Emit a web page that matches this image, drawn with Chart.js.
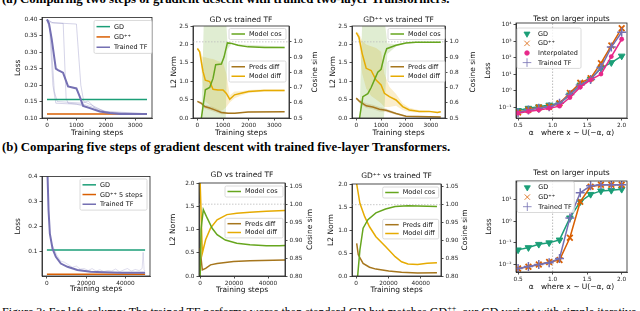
<!DOCTYPE html>
<html>
<head>
<meta charset="utf-8">
<script src="https://cdn.jsdelivr.net/npm/chart.js@4.4.1/dist/chart.umd.min.js"></script>
<style>
  body { margin: 0; width: 640px; height: 311px; overflow: hidden; background: #fff; position: relative; }
  canvas { position: absolute; }
  .cap { position: absolute; left: 2px; white-space: nowrap; color: #000; font: bold 12.8px/12.8px "Liberation Serif"; }
  .fig { position: absolute; left: 2px; white-space: nowrap; color: #000; font: 12px/12px "Liberation Serif"; }
</style>
</head>
<body>
<div class="cap" style="top:-6.7px">(a) Comparing two steps of gradient descent with trained two-layer Transformers.</div>
<div class="cap" style="top:141.3px">(b) Comparing five steps of gradient descent with trained five-layer Transformers.</div>
<div class="fig" style="top:306px">Figure 3: Far left column: The trained TF performs worse than standard GD but matches GD<sup style="font-size:8px;line-height:0">++</sup>, our GD variant with simple iterative</div>
<script>
// colours (Dark2)
const cGD = '#1b9e77', cGDpp = '#d95f02', cTF = '#7570b3', cInterp = '#e7298a';
const cCos = '#66a61e', cModel = '#e6ab02', cPreds = '#a6761d';
const FONT = 'DejaVu Sans';

// ---- (a) two-layer: loss curves
const a1Steps = [0, 3400];
const a1GD = [0.156, 0.156];
const a1GDpp = [0.112, 0.112];
const a1TFSteps = [0, 70, 160, 300, 375, 545, 716, 1000, 1114, 1227, 1455, 1795, 2136, 2477, 3400];
const a1TF = [0.40, 0.387, 0.34, 0.25, 0.246, 0.238, 0.196, 0.19, 0.165, 0.137, 0.13, 0.12, 0.115, 0.112, 0.112];
const a1RunASteps = [0, 80, 200, 300, 1000, 1500, 2000, 3400];
const a1RunA = [0.40, 0.39, 0.20, 0.145, 0.142, 0.13, 0.115, 0.112];
const a1RunBSteps = [0, 150, 550, 650, 720, 1300, 2000, 3400];
const a1RunB = [0.40, 0.39, 0.388, 0.16, 0.145, 0.14, 0.12, 0.113];
const a1RunCSteps = [0, 200, 1000, 1150, 1250, 1500, 2000, 3400];
const a1RunC = [0.40, 0.39, 0.386, 0.20, 0.15, 0.14, 0.118, 0.113];
const a1RunDSteps = [0, 120, 250, 350, 1200, 1400, 1700, 2200, 3400];
const a1RunD = [0.40, 0.36, 0.18, 0.15, 0.145, 0.152, 0.125, 0.115, 0.112];

// ---- (a) GD vs trained TF
const a2CosSteps = [156, 312, 480, 610, 714, 935, 1039, 1169, 1325, 1584, 1974, 2623, 3400];
const a2Cos = [0.5, 0.685, 0.70, 0.76, 0.85, 0.854, 0.90, 0.993, 0.99, 0.978, 0.967, 0.963, 0.963];
const a2CosBandSteps = [156, 260, 1100, 1169, 1325, 1584, 3400];
const a2CosHi = [0.5, 1.2, 1.2, 1.0, 0.995, 0.985, 0.968];
const a2CosLo = [0.45, 0.45, 0.45, 0.95, 0.985, 0.972, 0.958];
const a2ModelSteps = [0, 90, 220, 310, 480, 610, 800, 1000, 1130, 1260, 1450, 1700, 2000, 2600, 3400];
const a2Model = [1.89, 1.80, 1.26, 1.03, 0.99, 0.78, 0.76, 0.76, 0.67, 0.51, 0.63, 0.67, 0.72, 0.75, 0.75];
const a2ModelHi = [1.92, 1.85, 1.65, 1.65, 1.62, 1.6, 1.55, 1.5, 1.2, 0.62, 0.72, 0.73, 0.76, 0.78, 0.78];
const a2ModelLo = [1.86, 1.75, 0.9, 0.45, 0.35, 0.25, 0.2, 0.22, 0.3, 0.42, 0.54, 0.61, 0.68, 0.72, 0.72];
const a2PredSteps = [0, 156, 286, 480, 675, 935, 1195, 1455, 1974, 3400];
const a2Pred = [0.45, 0.40, 0.31, 0.27, 0.22, 0.15, 0.13, 0.13, 0.16, 0.17];
const a2PredHi = [0.47, 0.44, 0.36, 0.33, 0.28, 0.2, 0.15, 0.145, 0.17, 0.18];
const a2PredLo = [0.43, 0.36, 0.26, 0.21, 0.16, 0.1, 0.11, 0.115, 0.15, 0.16];

// ---- (a) GD++ vs trained TF
const a3CosSteps = [133, 267, 467, 600, 733, 867, 1000, 1133, 1227, 1600, 2000, 2400, 3400];
const a3Cos = [0.5, 0.64, 0.66, 0.70, 0.75, 0.80, 0.82, 0.91, 0.955, 0.978, 0.993, 0.998, 0.998];
const a3CosBandSteps = [133, 250, 1100, 1250, 1600, 2000, 3400];
const a3CosHi = [0.5, 1.2, 1.2, 0.99, 0.985, 0.996, 1.0];
const a3CosLo = [0.45, 0.45, 0.45, 0.92, 0.97, 0.99, 0.996];
const a3ModelSteps = [0, 107, 240, 400, 600, 800, 1000, 1133, 1333, 1600, 1867, 2133, 2533, 2933, 3267, 3400];
const a3Model = [2.32, 2.2, 1.75, 1.35, 1.29, 1.03, 0.90, 0.67, 0.58, 0.49, 0.31, 0.22, 0.18, 0.18, 0.15, 0.17];
const a3ModelHi = [2.35, 2.3, 2.1, 2.0, 1.95, 1.9, 1.8, 1.2, 0.85, 0.65, 0.4, 0.28, 0.21, 0.2, 0.17, 0.19];
const a3ModelLo = [2.29, 2.1, 1.2, 0.8, 0.6, 0.5, 0.4, 0.3, 0.3, 0.33, 0.22, 0.16, 0.15, 0.16, 0.13, 0.15];
const a3PredSteps = [0, 133, 400, 667, 933, 1200, 1600, 2000, 3400];
const a3Pred = [0.54, 0.45, 0.33, 0.30, 0.24, 0.21, 0.12, 0.045, 0.03];
const a3PredHi = [0.56, 0.5, 0.4, 0.36, 0.3, 0.26, 0.15, 0.06, 0.04];
const a3PredLo = [0.52, 0.4, 0.27, 0.24, 0.18, 0.16, 0.09, 0.03, 0.02];

// ---- test on larger inputs
const alphas = [0.5, 0.65, 0.8, 0.95, 1.1, 1.25, 1.4, 1.55, 1.7, 1.85, 2.0];
const trainAlpha = 1.0;
const a4GD = [0.066, 0.09, 0.11, 0.14, 0.18, 0.58, 2.3, 5.1, 24, 52, 130];
const a4GDpp = [0.05, 0.073, 0.1, 0.11, 0.18, 0.75, 3.1, 5.9, 48, 560, 6300];
const a4Interp = [0.046, 0.057, 0.07, 0.09, 0.12, 0.4, 1.7, 4.7, 10.5, 120, 1350];
const a4TF = [0.05, 0.07, 0.09, 0.11, 0.18, 0.6, 2.3, 5, 26, 450, 3600];

// ---- (b) five-layer: loss curves
const b1Steps = [0, 50000];
const b1GD = [0.105, 0.105];
const b1GDpp = [0.007, 0.007];
const b1TFSteps = [0, 340, 840, 1500, 2870, 4560, 7090, 10460, 15500, 22300, 29000, 37500, 50000];
const b1TF = [0.6, 0.40, 0.263, 0.17, 0.11, 0.077, 0.05, 0.037, 0.024, 0.017, 0.015, 0.013, 0.013];
const b1RunSteps = [3000, 5000, 7000, 9000, 11000, 13000, 15000, 17000, 19000, 21000, 23000, 25000, 27000, 29000,
  31000, 33000, 35000, 37000, 39000, 41000, 43000, 45000, 47000, 48500, 49000, 49500, 50000];
const b1Run = [0.12, 0.085, 0.06, 0.055, 0.045, 0.035, 0.04, 0.028, 0.03, 0.022, 0.03, 0.02, 0.025, 0.018,
  0.022, 0.02, 0.028, 0.017, 0.024, 0.03, 0.02, 0.026, 0.022, 0.03, 0.095, 0.025, 0.02];

// ---- (b) GD vs trained TF
const b2CosSteps = [0, 600, 1930, 4250, 7150, 10050, 14900, 21640, 29370, 39030, 46760, 50000];
const b2Cos = [0.78, 0.93, 0.985, 0.961, 0.933, 0.915, 0.90, 0.891, 0.887, 0.884, 0.884, 0.885];
const b2ModelSteps = [0, 1350, 3290, 6180, 10050, 15850, 21640, 29370, 39030, 50000];
const b2Model = [2.1, 0.49, 0.78, 1.03, 1.21, 1.32, 1.35, 1.37, 1.39, 1.41];
const b2PredSteps = [0, 1350, 3290, 6180, 10050, 19710, 29370, 50000];
const b2Pred = [0.6, 0.13, 0.165, 0.24, 0.27, 0.31, 0.33, 0.345];

// ---- (b) GD++ vs trained TF
const b3CosSteps = [990, 2380, 4360, 7330, 12280, 18220, 24160, 32080, 50000];
const b3Cos = [0.80, 0.873, 0.934, 0.958, 0.977, 0.988, 0.995, 0.997, 0.995];
const b3ModelSteps = [400, 2380, 5350, 8320, 12280, 18220, 24160, 28120, 32080, 38020, 43960, 50000];
const b3Model = [2.0, 1.58, 1.29, 1.07, 0.855, 0.64, 0.42, 0.31, 0.26, 0.25, 0.275, 0.29];
const b3PredSteps = [400, 1390, 4360, 8320, 12280, 20200, 28120, 38020, 50000];
const b3Pred = [0.71, 0.46, 0.275, 0.19, 0.15, 0.11, 0.08, 0.065, 0.07];

// ---- (b) test on larger inputs
const b4GD = [0.047, 0.06, 0.085, 0.1, 0.135, 1.4, 7.8, 17, 24.5, 26, 29];
const b4GDpp = [0.0065, 0.0078, 0.01, 0.013, 0.016, 0.17, 7.8, 38, 47, 47, 47];
const b4TF = [0.0065, 0.008, 0.01, 0.012, 0.019, 1.4, 20, 42, 47, 47, 47];

// ---- ticks
const stepTicksA = [0, 1000, 2000, 3000];
const stepLabelsA = ['0', '1000', '2000', '3000'];
const stepTicksB = [0, 20000, 40000];
const stepLabelsB = ['0', '20000', '40000'];
const lossTicksA = [0.10, 0.15, 0.20, 0.25, 0.30, 0.35, 0.40];
const lossLabelsA = ['0.10', '0.15', '0.20', '0.25', '0.30', '0.35', '0.40'];
const lossTicksB = [0.1, 0.2, 0.3, 0.4];
const lossLabelsB = ['0.1', '0.2', '0.3', '0.4'];
const normTicksA = [0, 0.5, 1.0, 1.5, 2.0, 2.5];
const normLabelsA = ['0.0', '0.5', '1.0', '1.5', '2.0', '2.5'];
const normTicksB = [0, 0.5, 1.0, 1.5, 2.0];
const normLabelsB = ['0.0', '0.5', '1.0', '1.5', '2.0'];
const cosTicksA = [0.5, 0.6, 0.7, 0.8, 0.9, 1.0];
const cosLabelsA = ['0.5', '0.6', '0.7', '0.8', '0.9', '1.0'];
const cosTicksB = [0.80, 0.85, 0.90, 0.95, 1.00, 1.05];
const cosLabelsB = ['0.80', '0.85', '0.90', '0.95', '1.00', '1.05'];
const alphaTicks = [0.5, 1.0, 1.5, 2.0];
const alphaLabels = ['0.5', '1.0', '1.5', '2.0'];
const logTicksA = [0.1, 1, 10, 100, 1000, 10000];
const logLabelsA = ['10⁻¹', '10⁰', '10¹', '10²', '10³', '10⁴'];
const logTicksB = [0.01, 0.1, 1, 10];
const logLabelsB = ['10⁻²', '10⁻¹', '10⁰', '10¹'];

function pts(xs, ys) { return xs.map((x, i) => ({ x: x, y: ys[i] })); }

function lineDs(xs, ys, color, width, more) {
  return Object.assign({ data: pts(xs, ys), borderColor: color, backgroundColor: color,
    borderWidth: width, pointRadius: 0, tension: 0, fill: false }, more || {});
}

function bandDs(xs, lo, hi, color, axisId) {
  return [
    { data: pts(xs, lo), borderColor: 'rgba(0,0,0,0)', borderWidth: 1, pointRadius: 0, fill: false, yAxisID: axisId },
    { data: pts(xs, hi), borderColor: 'rgba(0,0,0,0)', borderWidth: 1, pointRadius: 0, fill: '-1', backgroundColor: color, yAxisID: axisId }
  ];
}

function axis(s, pos, size, title) {
  const horiz = pos === 'bottom';
  return {
    type: s.log ? 'logarithmic' : 'linear', position: pos, min: s.min, max: s.max,
    afterFit: sc => { if (horiz) sc.height = size; else sc.width = size; },
    afterBuildTicks: sc => { sc.ticks = s.ticks.map(v => ({ value: v })); },
    ticks: { autoSkip: false, maxRotation: 0, padding: 2, color: '#222',
      font: { family: FONT, size: 5.8 }, callback: (v, i) => s.labels[i] },
    grid: { drawOnChartArea: false, drawTicks: true, tickLength: 2.5, color: '#222', lineWidth: 0.8 },
    border: { display: true, color: '#222', width: 0.8 },
    title: title ? { display: true, text: title, color: '#111', padding: 0, font: { family: FONT, size: 7.5 } } : { display: false }
  };
}

function drawLegend(ctx, ca, lg) {
  const x = ca.left + lg.x, y = ca.top + lg.y, rowH = lg.rowH || 10, pad = 1;
  const h = lg.items.length * rowH + pad * 2;
  ctx.save();
  ctx.beginPath();
  ctx.roundRect(x, y, lg.w, h, 1.5);
  ctx.fillStyle = 'rgba(255,255,255,0.8)';
  ctx.fill();
  ctx.strokeStyle = '#d0d0d0';
  ctx.lineWidth = 0.8;
  ctx.stroke();
  ctx.font = '6.5px "' + FONT + '"';
  ctx.textBaseline = 'middle';
  ctx.textAlign = 'left';
  lg.items.forEach((it, i) => {
    const cy = y + pad + rowH * (i + 0.5);
    ctx.strokeStyle = it.color;
    ctx.fillStyle = it.color;
    if (it.marker) {
      Chart.helpers.drawPoint(ctx, { pointStyle: it.marker, rotation: it.rot || 0, radius: it.r || 3.5, borderWidth: it.bw || 1 }, x + 10, cy);
    } else {
      ctx.lineWidth = 1.5;
      ctx.beginPath();
      ctx.moveTo(x + 2.5, cy);
      ctx.lineTo(x + 16, cy);
      ctx.stroke();
    }
    ctx.fillStyle = '#111';
    ctx.fillText(it.label, x + (it.marker ? 21 : 20), cy + 0.3);
  });
  ctx.restore();
}

const figText = {
  id: 'figText',
  afterDraw(chart, args, o) {
    const ctx = chart.ctx, ca = chart.chartArea;
    ctx.save();
    ctx.strokeStyle = '#222';
    ctx.lineWidth = 0.8;
    ctx.strokeRect(ca.left, ca.top, ca.right - ca.left, ca.bottom - ca.top);
    ctx.fillStyle = '#111';
    ctx.textAlign = 'center';
    ctx.textBaseline = 'middle';
    ctx.font = '7.5px "' + FONT + '"';
    if (o.title) ctx.fillText(o.title, (ca.left + ca.right) / 2, ca.top - o.titleGap);
    if (o.y2Title) {
      ctx.save();
      ctx.translate(ca.right + o.y2Gap, (ca.top + ca.bottom) / 2);
      ctx.rotate(-Math.PI / 2);
      ctx.fillText(o.y2Title, 0, 0);
      ctx.restore();
    }
    ctx.restore();
    (o.legends || []).forEach(lg => drawLegend(ctx, ca, lg));
  }
};

function makePlot(o) {
  const [l, t, r, b] = o.area;
  const w = r - l + o.padL + o.padR, h = b - t + o.padT + o.padB;
  const cv = document.createElement('canvas');
  cv.width = w; cv.height = h;
  cv.style.left = (l - o.padL) + 'px';
  cv.style.top = (t - o.padT) + 'px';
  document.body.appendChild(cv);
  const scales = { x: axis(o.x, 'bottom', o.padB, o.xTitle), y: axis(o.y, 'left', o.padL, o.yTitle) };
  if (o.y2) scales.y2 = axis(o.y2, 'right', o.padR, null);
  return new Chart(cv, {
    type: 'line',
    data: { datasets: o.datasets },
    options: {
      responsive: false, animation: false,
      layout: { padding: { top: o.padT, right: o.y2 ? 0 : o.padR, left: 0, bottom: 0 } },
      plugins: { legend: { display: false }, tooltip: { enabled: false },
        filler: { drawTime: 'beforeDatasetsDraw' }, figText: o.text || {} },
      scales: scales
    },
    plugins: [figText]
  });
}

const faint = 'rgba(117,112,179,0.3)';
const lineItem = (label, color) => ({ label: label, color: color });

// (a) loss
makePlot({
  area: [42, 17, 152, 118], padL: 28, padR: 6, padT: 5, padB: 20,
  x: { min: -170, max: 3570, ticks: stepTicksA, labels: stepLabelsA },
  y: { min: 0.1, max: 0.406, ticks: lossTicksA, labels: lossLabelsA },
  xTitle: 'Training steps', yTitle: 'Loss',
  datasets: [
    lineDs(a1TFSteps, a1TF, cTF, 2),
    lineDs(a1Steps, a1GD, cGD, 1.5),
    lineDs(a1Steps, a1GDpp, cGDpp, 1.5),
    lineDs(a1RunASteps, a1RunA, faint, 1),
    lineDs(a1RunBSteps, a1RunB, faint, 1),
    lineDs(a1RunCSteps, a1RunC, faint, 1),
    lineDs(a1RunDSteps, a1RunD, faint, 1)
  ],
  text: { legends: [{ x: 52, y: 3, w: 58, rowH: 10.3,
    items: [lineItem('GD', cGD), lineItem('GD⁺⁺', cGDpp), lineItem('Trained TF', cTF)] }] }
});

function cosPlot(area, padL, y2Gap, title, d) {
  return makePlot({
    area: area, padL: padL, padR: y2Gap + 6, padT: 10, padB: 20,
    x: { min: -170, max: 3570, ticks: stepTicksA, labels: stepLabelsA },
    y: { min: 0, max: 2.5, ticks: normTicksA, labels: normLabelsA },
    y2: { min: 0.5, max: 1.104, ticks: cosTicksA, labels: cosLabelsA },
    xTitle: 'Training steps', yTitle: 'L2 Norm',
    datasets: [
      lineDs(d.cosS, d.cos, cCos, 1.5, { yAxisID: 'y2' }),
      lineDs(d.modelS, d.model, cModel, 1.5),
      lineDs(d.predS, d.pred, cPreds, 1.5),
      lineDs([-170, 3570], [1.0, 1.0], '#bbbbbb', 0.8, { yAxisID: 'y2', borderDash: [1.5, 1.5] }),
      ...bandDs(d.cosBS, d.cosLo, d.cosHi, 'rgba(102,166,30,0.2)', 'y2'),
      ...bandDs(d.modelS, d.modelLo, d.modelHi, 'rgba(230,171,2,0.2)', 'y'),
      ...bandDs(d.predS, d.predLo, d.predHi, 'rgba(166,118,29,0.2)', 'y')
    ],
    text: { title: title, titleGap: 6, y2Title: 'Cosine sim', y2Gap: y2Gap, legends: [
      { x: 36, y: 2.5, w: 57, rowH: 9, items: [lineItem('Model cos', cCos)] },
      { x: 36, y: 35, w: 57, rowH: 9.5, items: [lineItem('Preds diff', cPreds), lineItem('Model diff', cModel)] }
    ] }
  });
}

cosPlot([193, 26, 289, 118], 23, 26, 'GD vs trained TF', {
  cosS: a2CosSteps, cos: a2Cos, cosBS: a2CosBandSteps, cosLo: a2CosLo, cosHi: a2CosHi,
  modelS: a2ModelSteps, model: a2Model, modelLo: a2ModelLo, modelHi: a2ModelHi,
  predS: a2PredSteps, pred: a2Pred, predLo: a2PredLo, predHi: a2PredHi
});
cosPlot([352, 26, 445, 118], 23, 28, 'GD⁺⁺ vs trained TF', {
  cosS: a3CosSteps, cos: a3Cos, cosBS: a3CosBandSteps, cosLo: a3CosLo, cosHi: a3CosHi,
  modelS: a3ModelSteps, model: a3Model, modelLo: a3ModelLo, modelHi: a3ModelHi,
  predS: a3PredSteps, pred: a3Pred, predLo: a3PredLo, predHi: a3PredHi
});

// markers
const mkGD = { pointStyle: 'triangle', pointRotation: 180, pointRadius: 3.8, pointBorderWidth: 1, pointBackgroundColor: cGD, pointBorderColor: cGD };
const mkGDpp = { pointStyle: 'crossRot', pointRadius: 4, pointBorderWidth: 1.8, pointBorderColor: cGDpp };
const mkInterp = { pointStyle: 'circle', pointRadius: 2.4, pointBorderWidth: 0, pointBackgroundColor: cInterp };
const mkTF = { pointStyle: 'cross', pointRadius: 4.5, pointBorderWidth: 1.5, pointBorderColor: cTF };

function testPlot(area, padL, padT, titleGap, y, series, legend) {
  return makePlot({
    area: area, padL: padL, padR: 8, padT: padT, padB: 20,
    x: { min: 0.47, max: 2.077, ticks: alphaTicks, labels: alphaLabels },
    y: y, xTitle: 'α   where x ∼ U(−α, α)', yTitle: 'Loss',
    datasets: series.concat([
      lineDs([trainAlpha, trainAlpha], [y.min, y.max], '#aaaaaa', 0.8, { borderDash: [1.5, 1.5], order: 9 })
    ]),
    text: { title: 'Test on larger inputs', titleGap: titleGap, legends: [legend] }
  });
}

testPlot([516, 23, 627, 118], 32, 10, 4, { log: true, min: 0.023, max: 13000, ticks: logTicksA, labels: logLabelsA }, [
  lineDs(alphas, a4GD, cGD, 1.5, Object.assign({ order: 4 }, mkGD)),
  lineDs(alphas, a4GDpp, cGDpp, 1.5, Object.assign({ order: 3 }, mkGDpp)),
  lineDs(alphas, a4TF, cTF, 1.5, Object.assign({ order: 2 }, mkTF)),
  lineDs(alphas, a4Interp, cInterp, 1.5, Object.assign({ order: 1 }, mkInterp))
], { x: 1, y: 5, w: 64, rowH: 9.6, items: [
  { label: 'GD', color: cGD, marker: 'triangle', rot: 180, r: 3.5 },
  { label: 'GD⁺⁺', color: cGDpp, marker: 'crossRot', r: 3.8, bw: 1.8 },
  { label: 'Interpolated', color: cInterp, marker: 'circle', r: 2.3, bw: 0 },
  { label: 'Trained TF', color: cTF, marker: 'cross', r: 4.3, bw: 1.5 }
] });

// (b) loss
makePlot({
  area: [42, 176, 150, 276], padL: 28, padR: 6, padT: 5, padB: 18,
  x: { min: -2500, max: 52500, ticks: stepTicksB, labels: stepLabelsB },
  y: { min: 0, max: 0.4, ticks: lossTicksB, labels: lossLabelsB },
  xTitle: 'Training steps', yTitle: 'Loss',
  datasets: [
    lineDs(b1TFSteps, b1TF, cTF, 2),
    lineDs(b1Steps, b1GD, cGD, 1.5),
    lineDs(b1Steps, b1GDpp, cGDpp, 1.5),
    lineDs(b1RunSteps, b1Run, faint, 0.8)
  ],
  text: { legends: [{ x: 38, y: 2.5, w: 67, rowH: 9.7,
    items: [lineItem('GD', cGD), lineItem('GD⁺⁺ 5 steps', cGDpp), lineItem('Trained TF', cTF)] }] }
});

function cosPlotB(area, padL, y2Gap, xr, yMax2, title, d) {
  return makePlot({
    area: area, padL: padL, padR: y2Gap + 6, padT: 12, padB: 19,
    x: { min: xr[0], max: xr[1], ticks: stepTicksB, labels: stepLabelsB },
    y: { min: 0, max: 2.0, ticks: normTicksB, labels: normLabelsB },
    y2: { min: 0.8, max: yMax2, ticks: cosTicksB, labels: cosLabelsB },
    xTitle: 'Training steps', yTitle: 'L2 Norm',
    datasets: [
      lineDs(d.cosS, d.cos, cCos, 1.5, { yAxisID: 'y2' }),
      lineDs(d.modelS, d.model, cModel, 1.5),
      lineDs(d.predS, d.pred, cPreds, 1.5),
      lineDs(xr, [1.0, 1.0], '#bbbbbb', 0.8, { yAxisID: 'y2', borderDash: [1.5, 1.5] })
    ],
    text: { title: title, titleGap: 8, y2Title: 'Cosine sim', y2Gap: y2Gap, legends: [
      { x: d.lx, y: 3, w: d.lw, rowH: 9, items: [lineItem('Model cos', cCos)] },
      { x: d.lx, y: 35.3, w: d.lw, rowH: 8.8, items: [lineItem('Preds diff', cPreds), lineItem('Model diff', cModel)] }
    ] }
  });
}

cosPlotB([199, 183, 285, 276], 30, 25, [-600, 50000], 1.059, 'GD vs trained TF', {
  cosS: b2CosSteps, cos: b2Cos, modelS: b2ModelSteps, model: b2Model, predS: b2PredSteps, pred: b2Pred, lx: 26, lw: 58
});
cosPlotB([352, 184, 441, 276], 25, 24, [-2500, 52500], 1.058, 'GD⁺⁺ vs trained TF', {
  cosS: b3CosSteps, cos: b3Cos, modelS: b3ModelSteps, model: b3Model, predS: b3PredSteps, pred: b3Pred, lx: 30.7, lw: 56
});

testPlot([516, 181, 627, 272], 31, 12, 7.5, { log: true, min: 0.0045, max: 70, ticks: logTicksB, labels: logLabelsB }, [
  lineDs(alphas, b4GD, cGD, 1.5, Object.assign({ order: 3 }, mkGD)),
  lineDs(alphas, b4GDpp, cGDpp, 1.5, Object.assign({ order: 2 }, mkGDpp)),
  lineDs(alphas, b4TF, cTF, 1.5, Object.assign({ order: 1 }, mkTF))
], { x: 1.3, y: 0.7, w: 57, rowH: 9.6, items: [
  { label: 'GD', color: cGD, marker: 'triangle', rot: 180, r: 3.5 },
  { label: 'GD⁺⁺', color: cGDpp, marker: 'crossRot', r: 3.8, bw: 1.8 },
  { label: 'Trained TF', color: cTF, marker: 'cross', r: 4.3, bw: 1.5 }
] });
</script>
</body>
</html>
